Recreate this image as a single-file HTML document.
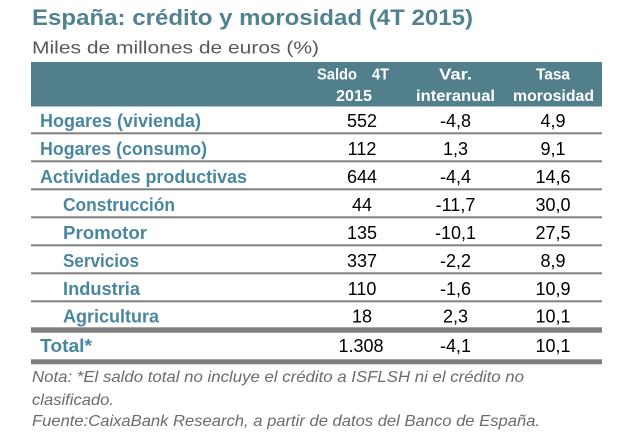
<!DOCTYPE html>
<html>
<head>
<meta charset="utf-8">
<style>
html,body{margin:0;padding:0;background:#fff;}
svg{display:block;}
text{font-family:"Liberation Sans",sans-serif;}
</style>
</head>
<body>
<svg width="631" height="439" viewBox="0 0 631 439" xmlns="http://www.w3.org/2000/svg">
<rect width="631" height="439" fill="#fff"/>
<!-- Title -->
<text x="32" y="25" font-size="22.5" font-weight="bold" fill="#518290" textLength="441" lengthAdjust="spacingAndGlyphs">España: crédito y morosidad (4T 2015)</text>
<text x="32" y="53.3" font-size="17.5" fill="#595959" textLength="287" lengthAdjust="spacingAndGlyphs">Miles de millones de euros (%)</text>

<!-- Header -->
<rect x="31" y="62" width="571" height="44.5" fill="#527f8c"/>
<g font-size="16" font-weight="bold" fill="#fff">
<text x="317" y="79.5" textLength="40" lengthAdjust="spacingAndGlyphs">Saldo</text>
<text x="372" y="79.5" textLength="17" lengthAdjust="spacingAndGlyphs">4T</text>
<text x="336" y="101" textLength="36" lengthAdjust="spacingAndGlyphs">2015</text>
<text x="439" y="79.5" textLength="33" lengthAdjust="spacingAndGlyphs">Var.</text>
<text x="416" y="101" textLength="79" lengthAdjust="spacingAndGlyphs">interanual</text>
<text x="536" y="79.5" textLength="34" lengthAdjust="spacingAndGlyphs">Tasa</text>
<text x="513" y="101" textLength="81" lengthAdjust="spacingAndGlyphs">morosidad</text>
</g>

<!-- Lines -->
<g fill="#7f7f7f">
<rect x="31" y="132.3" width="571" height="2"/>
<rect x="31" y="160.3" width="571" height="2"/>
<rect x="31" y="188.3" width="571" height="2"/>
<rect x="31" y="216.3" width="571" height="2"/>
<rect x="31" y="244.3" width="571" height="2"/>
<rect x="31" y="272.3" width="571" height="2"/>
<rect x="31" y="300.3" width="571" height="2"/>
<rect x="31" y="327.3" width="571" height="5.4"/>
<rect x="31" y="359.3" width="571" height="5"/>
</g>

<!-- Labels -->
<g font-size="18.5" font-weight="bold" fill="#4987a0">
<text x="40" y="127" textLength="161" lengthAdjust="spacingAndGlyphs">Hogares (vivienda)</text>
<text x="40" y="155" textLength="167" lengthAdjust="spacingAndGlyphs">Hogares (consumo)</text>
<text x="40" y="183" textLength="207" lengthAdjust="spacingAndGlyphs">Actividades productivas</text>
<text x="63" y="211" textLength="112" lengthAdjust="spacingAndGlyphs">Construcción</text>
<text x="63" y="239" textLength="84" lengthAdjust="spacingAndGlyphs">Promotor</text>
<text x="63" y="267" textLength="76" lengthAdjust="spacingAndGlyphs">Servicios</text>
<text x="63" y="295" textLength="77" lengthAdjust="spacingAndGlyphs">Industria</text>
<text x="63" y="322.5" textLength="96" lengthAdjust="spacingAndGlyphs">Agricultura</text>
<text x="40" y="352" textLength="52" lengthAdjust="spacingAndGlyphs">Total*</text>
</g>

<!-- Values -->
<g font-size="18" fill="#000" text-anchor="middle">
<text x="362" y="127">552</text><text x="455.5" y="127">-4,8</text><text x="553" y="127">4,9</text>
<text x="362" y="155">112</text><text x="455.5" y="155">1,3</text><text x="553" y="155">9,1</text>
<text x="362" y="183">644</text><text x="455.5" y="183">-4,4</text><text x="553" y="183">14,6</text>
<text x="362" y="211">44</text><text x="455.5" y="211">-11,7</text><text x="553" y="211">30,0</text>
<text x="362" y="239">135</text><text x="455.5" y="239">-10,1</text><text x="553" y="239">27,5</text>
<text x="362" y="267">337</text><text x="455.5" y="267">-2,2</text><text x="553" y="267">8,9</text>
<text x="362" y="295">110</text><text x="455.5" y="295">-1,6</text><text x="553" y="295">10,9</text>
<text x="362" y="322.5">18</text><text x="455.5" y="322.5">2,3</text><text x="553" y="322.5">10,1</text>
<text x="361" y="352">1.308</text><text x="455.5" y="352">-4,1</text><text x="553" y="352">10,1</text>
</g>

<!-- Notes -->
<g font-size="16" font-style="italic" fill="#6b6b6b">
<text x="32" y="382" textLength="492" lengthAdjust="spacingAndGlyphs">Nota: *El saldo total no incluye el crédito a ISFLSH ni el crédito no</text>
<text x="32" y="405" textLength="82" lengthAdjust="spacingAndGlyphs">clasificado.</text>
<text x="32" y="426" textLength="508" lengthAdjust="spacingAndGlyphs">Fuente:CaixaBank Research, a partir de datos del Banco de España.</text>
</g>
</svg>
</body>
</html>
